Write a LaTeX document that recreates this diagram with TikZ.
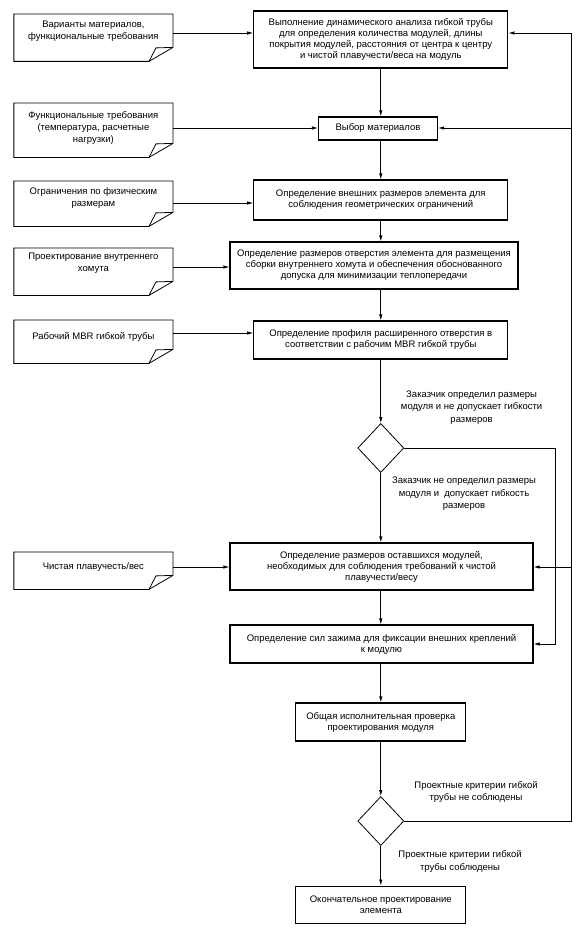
\documentclass[tikz,border=0pt]{standalone}
\usepackage{fontspec}
\setmainfont{Liberation Sans}
\usetikzlibrary{arrows.meta,calc,shapes.geometric}
\newcommand\docoutline[2]{%
  \draw[docline] (#1.north west) -- (#1.north east) -- ($(#1.south east)+(0,#2-14)$) -- ($(#1.south east)+(-24,#2)$) -- ($(#1.south west)+(0,#2)$) -- cycle;
  \draw[docline] ($(#1.south east)+(0,#2-14)$) -- ($(#1.south east)+(-17,#2-13.5)$) -- ($(#1.south east)+(-24,#2)$);
}
\begin{document}
\begin{tikzpicture}[x=1pt,y=-1pt,
  proc/.style={draw, line width=1.2pt, inner sep=0pt, align=center, font=\fontsize{9.5}{11}\selectfont},
  doc/.style={inner sep=0pt, minimum width=158.7pt, align=center, anchor=north, font=\fontsize{9.5}{11.7}\selectfont},
  docline/.style={line width=0.8pt, line join=miter},
  dec/.style={draw, diamond, line width=0.8pt, inner sep=0pt, minimum width=46pt, minimum height=49pt},
  lbl/.style={align=center, inner sep=0pt, font=\fontsize{9.5}{12.5}\selectfont},
  arr/.style={line width=0.7pt, -{Latex[length=6pt,width=3.4pt]}},
  ln/.style={line width=0.7pt}]
\useasboundingbox[fill=white] (0,0) rectangle (582,934);
% documents
\node[doc, minimum height=34pt] (d1) at (93.4,14) {Варианты материалов,\\функциональные требования};
\docoutline{d1}{13}
\node[doc, minimum height=50pt] (d2) at (93.4,103) {Функциональные требования\\(температура, расчетные\\нагрузки)};
\docoutline{d2}{4}
\node[doc, minimum height=33pt] (d3) at (93.4,181) {Ограничения по физическим\\размерам};
\docoutline{d3}{12}
\node[doc, minimum height=30pt] (d4) at (93.4,248) {Проектирование внутреннего\\хомута};
\docoutline{d4}{17}
\node[doc, minimum height=34pt] (d5) at (93.4,320) {Рабочий MBR гибкой трубы};
\docoutline{d5}{9}
\node[doc, minimum height=30pt] (d6) at (93.4,552) {Чистая плавучесть/вес};
\docoutline{d6}{7}
% process boxes
\node[proc, minimum width=254pt, minimum height=57pt] (b1) at (380.8,39.5) {Выполнение динамического анализа гибкой трубы\\для определения количества модулей, длины\\покрытия модулей, расстояния от центра к центру\\и чистой плавучести/веса на модуль};
\node[proc, minimum width=119pt, minimum height=23pt] (b2) at (378,128.5) {Выбор материалов};
\node[proc, minimum width=254pt, minimum height=40pt] (b3) at (380.8,200) {Определение внешних размеров элемента для\\соблюдения геометрических ограничений};
\node[proc, minimum width=288pt, minimum height=47pt] (b4) at (374,265.5) {Определение размеров отверстия элемента для размещения\\сборки внутреннего хомута и обеспечения обоснованного\\допуска для минимизации теплопередачи};
\node[proc, minimum width=254pt, minimum height=38pt] (b5) at (380.8,340) {Определение профиля расширенного отверстия в\\соответствии с рабочим MBR гибкой трубы};
\node[dec] (q1) at (380.8,448) {};
\node[proc, minimum width=303pt, minimum height=47pt] (b6) at (381.5,566.5) {Определение размеров оставшихся модулей,\\необходимых для соблюдения требований к чистой\\плавучести/весу};
\node[proc, minimum width=303pt, minimum height=38pt] (b7) at (381.5,644) {Определение сил зажима для фиксации внешних креплений\\к модулю};
\node[proc, minimum width=170pt, minimum height=38pt] (b8) at (380.8,722) {Общая исполнительная проверка\\проектирования модуля};
\node[dec] (q2) at (380.8,821) {};
\node[proc, line width=0.9pt, minimum width=170pt, minimum height=37pt] (b9) at (380.8,904.5) {Окончательное проектирование\\элемента};
% labels
\node[lbl] (l1) at (471.6,407.5) {Заказчик определил размеры\\модуля и не допускает гибкости\\размеров};
\node[lbl] (l2) at (464,494) {Заказчик не определил размеры\\модуля и~ допускает гибкость\\размеров};
\node[lbl] (l3) at (476,792) {Проектные критерии гибкой\\трубы не соблюдены};
\node[lbl] (l4) at (460,861.5) {Проектные критерии гибкой\\трубы соблюдены};
% routing coordinates
\coordinate (r1) at (555,0);
\coordinate (r2) at (571,0);
% inputs
\draw[arr] (d1.east |- 0,33) -- (b1.west |- 0,33);
\draw[arr] (d2.east |- 0,128) -- (b2.west |- 0,128);
\draw[arr] (d3.east |- 0,203) -- (b3.west |- 0,203);
\draw[arr] (d4.east |- 0,267) -- (b4.west |- 0,267);
\draw[arr] (d5.east |- 0,333) -- (b5.west |- 0,333);
\draw[arr] (d6.east |- 0,567) -- (b6.west |- 0,567);
% main flow
\draw[arr] (b1.south -| 380.8,0) -- (b2.north -| 380.8,0);
\draw[arr] (b2.south -| 380.8,0) -- (b3.north -| 380.8,0);
\draw[arr] (b3.south -| 380.8,0) -- (b4.north -| 380.8,0);
\draw[arr] (b4.south -| 380.8,0) -- (b5.north -| 380.8,0);
\draw[arr] (b5.south -| 380.8,0) -- (q1.north);
\draw[arr] (q1.south) -- (b6.north -| q1.south);
\draw[arr] (b6.south -| q1.south) -- (b7.north -| q1.south);
\draw[arr] (b7.south -| q1.south) -- (b8.north -| q1.south);
\draw[arr] (b8.south -| q1.south) -- (q2.north);
\draw[arr] (q2.south) -- (b9.north -| q2.south);
% bypass
\draw[arr] (q1.east) -- (q1.east -| r1) -- (r1 |- b7.east) -- (b7.east);
% feedback
\draw[arr] (q2.east) -- (q2.east -| r2) -- (r2 |- 0,33) -- (b1.east |- 0,33);
\draw[arr] (r2 |- 0,128) -- (b2.east |- 0,128);
\draw[arr] (r2 |- 0,567) -- (b6.east |- 0,567);
\end{tikzpicture}
\end{document}
